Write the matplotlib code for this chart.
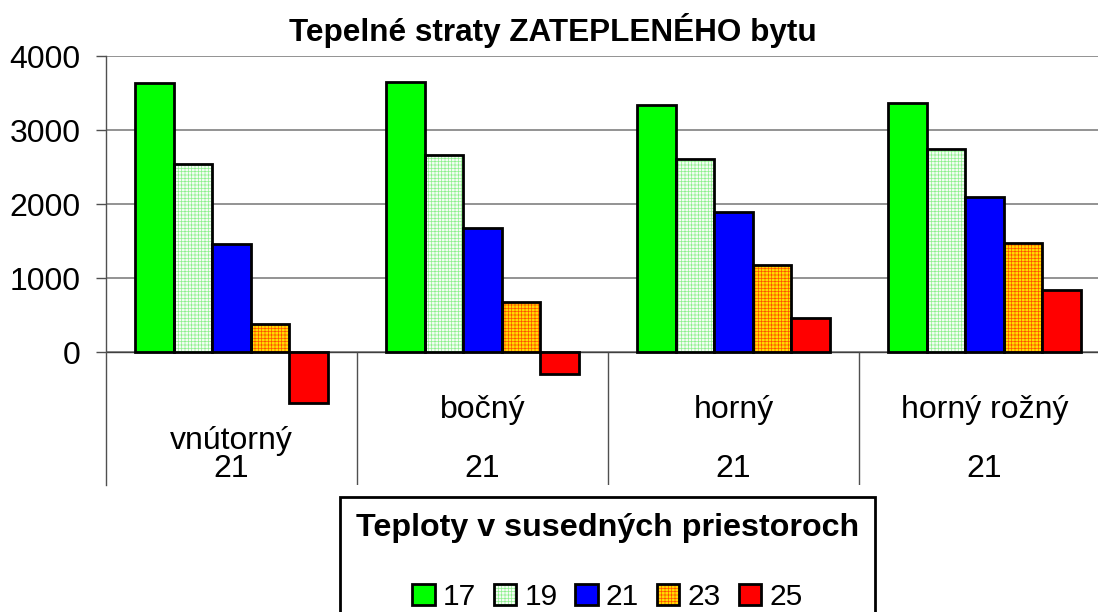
import matplotlib
matplotlib.use("Agg")
import matplotlib.pyplot as plt
from matplotlib.patches import Patch
from matplotlib import transforms
import numpy as np

# ---- data ----
categories = ["vnútorný", "bočný", "horný", "horný rožný"]
sublabels = ["21", "21", "21", "21"]
series_labels = ["17", "19", "21", "23", "25"]
v17 = [3630, 3643, 3338, 3365]
v19 = [2545, 2662, 2612, 2743]
v21 = [1468, 1676, 1892, 2103]
v23 = [386, 684, 1180, 1481]
v25 = [-689, -293, 459, 842]
yticks = [0, 1000, 2000, 3000, 4000]
title = "Tepelné straty ZATEPLENÉHO bytu"
legend_title = "Teploty v susedných priestoroch"

series = [v17, v19, v21, v23, v25]

# ---- style ----
plt.rcParams['font.family'] = ['Liberation Sans', 'DejaVu Sans']
plt.rcParams['hatch.linewidth'] = 0.5
styles = [
    dict(fc='#00ff00', hatch=None, hc=None),
    dict(fc='#f4fdf4', hatch='+++++', hc='#8cf08c'),
    dict(fc='#0000ff', hatch=None, hc=None),
    dict(fc='#ffdc00', hatch='+++++', hc='#ff5000'),
    dict(fc='#ff0000', hatch=None, hc=None),
]
FS = 23
LFS = 21.5
TFS = 22.7
LTFS = 23.2

W, H = 1098, 612
fig = plt.figure(figsize=(W / 100, H / 100), dpi=100)
ax_left, ax_right, ax_top, ax_bot = 106, 1110, 56, 485
ax = fig.add_axes([ax_left / W, 1 - ax_bot / H, (ax_right - ax_left) / W, (ax_bot - ax_top) / H])

zero_px = 352.3
ymax = 4000
ymin = -(ax_bot - zero_px) * ymax / (zero_px - ax_top)
ax.set_ylim(ymin, ymax)
ax.set_xlim(-0.5, len(categories) - 0.5)

x = np.arange(len(categories))
bw = 0.153
n = len(series)
edge_lw = 2.0
for i, (vals, st) in enumerate(zip(series, styles)):
    off = (i - (n - 1) / 2) * bw
    if st['hatch']:
        ax.bar(x + off, vals, bw, color=st['fc'], edgecolor=st['hc'], hatch=st['hatch'],
               linewidth=0, zorder=3)
        ax.bar(x + off, vals, bw, fill=False, edgecolor='black', linewidth=edge_lw, zorder=4)
    else:
        ax.bar(x + off, vals, bw, color=st['fc'], edgecolor='black', linewidth=edge_lw, zorder=4)

# grid and axis
axis_col = '#505050'
ax.set_yticks(yticks)
ax.set_yticklabels([str(t) for t in yticks])
ax.yaxis.grid(True, color='#808080', linewidth=1.2, zorder=1)
ax.set_axisbelow(True)
ax.tick_params(axis='y', direction='out', length=7.2, width=1, color=axis_col,
               pad=11, labelsize=FS)
ax.set_xticks([])
for s in ['top', 'right', 'bottom']:
    ax.spines[s].set_visible(False)
ax.spines['left'].set_color(axis_col)
ax.spines['left'].set_linewidth(1)
ax.axhline(0, color='#404040', linewidth=1, zorder=2)
ax.vlines(x[:-1] + 0.5, ymin, 0, color=axis_col, linewidth=1, zorder=2)

# category labels
tr = transforms.blended_transform_factory(ax.transData, fig.transFigure)
for i, (c, s) in enumerate(zip(categories, sublabels)):
    cy = 441 if i == 0 else 410
    ax.text(x[i], 1 - cy / H, c, transform=tr, ha='center', va='center', fontsize=FS)
    ax.text(x[i], 1 - 469 / H, s, transform=tr, ha='center', va='center', fontsize=FS)

fig.text(553 / W, 1 - 30 / H, title, ha='center', va='center', fontsize=TFS, fontweight='bold')

# legend
handles = []
for st in styles:
    if st['hatch']:
        handles.append((Patch(facecolor=st['fc'], edgecolor=st['hc'], hatch=st['hatch'], linewidth=0),
                        Patch(fill=False, edgecolor='black', linewidth=2)))
    else:
        handles.append(Patch(facecolor=st['fc'], edgecolor='black', linewidth=2))
leg = fig.legend(handles, series_labels, ncol=5, loc='upper left',
                 bbox_to_anchor=(340 / W, 1 - 497 / H), title=legend_title,
                 title_fontproperties={'weight': 'bold', 'size': LTFS}, fontsize=LFS,
                 frameon=True, fancybox=False, edgecolor='black', framealpha=1,
                 borderpad=0.53, labelspacing=1.33, handlelength=0.75, handleheight=0.7,
                 handletextpad=0.27, columnspacing=0.6, borderaxespad=0)
leg.get_frame().set_linewidth(2)

fig.savefig('out.png', dpi=100)
